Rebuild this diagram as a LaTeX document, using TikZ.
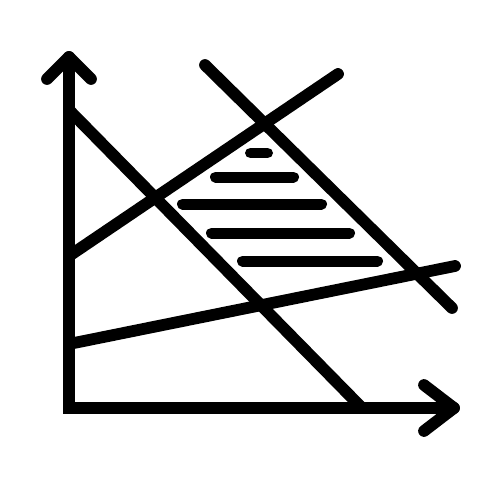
\documentclass[tikz,border=0pt]{standalone}
\begin{document}
\begin{tikzpicture}[x=0.02cm,y=-0.02cm,
  stroke/.style={line width=0.235cm,line cap=round,line join=round},
  hatch/.style={line width=0.22cm,line cap=round}]
\useasboundingbox (0,0) rectangle (500,500);
% axes
\coordinate (ytip) at (69,57);
\coordinate (orig) at (69,408);
\coordinate (xtip) at (454,408);
\draw[stroke,line join=miter] (ytip) -- (orig) -- (xtip);
\draw[stroke] (47,79) -- (ytip) -- (91,79);
\draw[stroke] (424,385) -- (xtip) -- (424,431);
% constraint lines
\coordinate (a1) at (69,110); \coordinate (b1) at (362,408);
\coordinate (a2) at (69,256); \coordinate (b2) at (338,74);
\coordinate (a3) at (69,344); \coordinate (b3) at (455,266);
\coordinate (a4) at (205,65); \coordinate (b4) at (452,308);
\draw[stroke] (a1) -- (b1);
\draw[stroke] (a2) -- (b2);
\draw[stroke] (a3) -- (b3);
\draw[stroke] (a4) -- (b4);
% hatching
\draw[hatch] (250.5,153) -- (267.5,153);
\draw[hatch] (215.5,177) -- (293.5,177);
\draw[hatch] (182.5,204) -- (321.5,204);
\draw[hatch] (211.5,233) -- (349.5,233);
\draw[hatch] (242.5,261) -- (377.5,261);
\end{tikzpicture}
\end{document}
